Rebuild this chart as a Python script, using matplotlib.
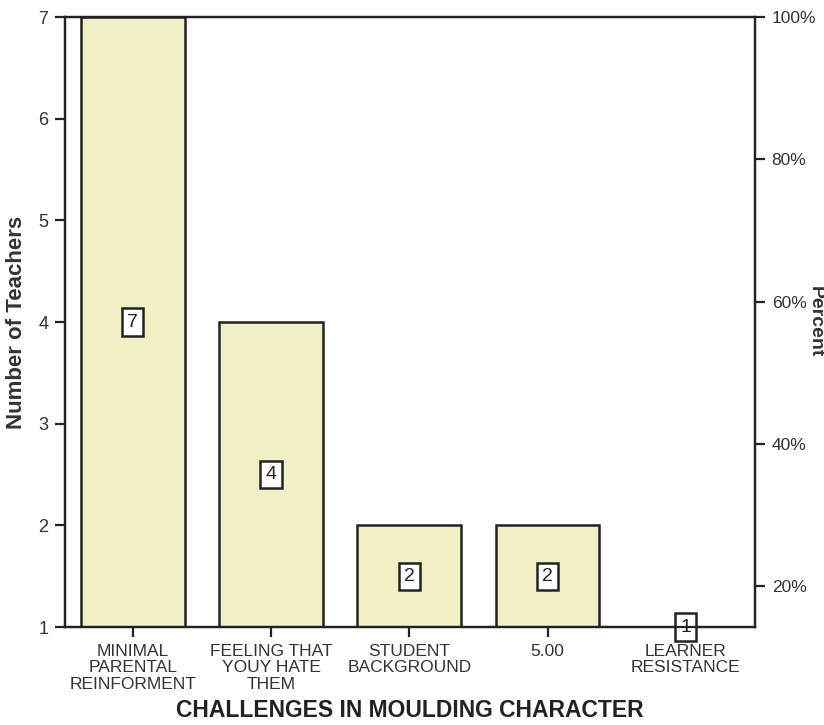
import matplotlib
matplotlib.use("Agg")
import matplotlib.pyplot as plt

categories = ["MINIMAL\nPARENTAL\nREINFORMENT", "FEELING THAT\nYOUY HATE\nTHEM",
              "STUDENT\nBACKGROUND", "5.00", "LEARNER\nRESISTANCE"]
counts = [7, 4, 2, 2, 1]
left_ticks = [1, 2, 3, 4, 5, 6, 7]
pct_ticks = [20, 40, 60, 80, 100]

plt.rcParams['font.family'] = ['Liberation Sans', 'DejaVu Sans']

fig = plt.figure(figsize=(8.24, 7.25), dpi=100)
ax = fig.add_axes([65/824, 1-627/725, (755-65)/824, (627-17)/725])

base = 1
x = list(range(len(counts)))
heights = [c - base for c in counts]
ax.bar(x, heights, bottom=base, width=0.75, color='#F1EFC6', edgecolor='#222222', linewidth=1.8, zorder=2)

for xi, c in zip(x, counts):
    ax.text(xi, base + (c - base) / 2, str(c), ha='center', va='center', fontsize=14,
            color='#222222', zorder=4,
            bbox=dict(boxstyle='square,pad=0.26', facecolor='white', edgecolor='#222222', linewidth=1.8))

ax.set_xlim(-0.49, 4.5)
ax.set_ylim(1, 7)
ax.set_yticks(left_ticks)
ax.set_yticklabels([str(t) for t in left_ticks], fontsize=13, color='#333333')
ax.set_xticks(x)
ax.set_xticklabels(categories, fontsize=12.5, color='#333333', linespacing=1.15)
ax.tick_params(axis='both', length=7, width=1.6, color='#222222', pad=5)
for s in ax.spines.values():
    s.set_linewidth(1.6)
    s.set_color('#222222')
ax.set_ylabel("Number of Teachers", fontsize=16, fontweight='bold', color='#333333', labelpad=8)
ax.set_xlabel("CHALLENGES IN MOULDING CHARACTER", fontsize=16.5, fontweight='bold', color='#222222')
ax.xaxis.label.set_va('bottom')
ax.xaxis.set_label_coords(0.5, -(725 - 3 - 627) / 610)

ax2 = ax.twinx()
ax2.set_ylim(100 * base / max(counts), 100)
ax2.set_yticks(pct_ticks)
ax2.set_yticklabels([f"{p}%" for p in pct_ticks], fontsize=12.5, color='#333333')
ax2.tick_params(axis='y', length=7, width=1.6, color='#222222', pad=5)
for s in ax2.spines.values():
    s.set_linewidth(1.6)
    s.set_color('#222222')
ax2.set_ylabel("Percent", fontsize=14, fontweight='bold', color='#333333', rotation=-90)
ax2.yaxis.label.set_va('center')
ax2.yaxis.label.set_ha('center')
ax2.yaxis.set_label_coords((815 - 65) / 690, 0.5)

fig.savefig("out.png", dpi=100)
